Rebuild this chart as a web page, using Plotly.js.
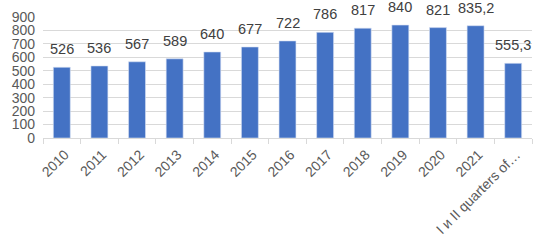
<!DOCTYPE html>
<html>
<head>
<meta charset="utf-8">
<script src="https://cdn.plot.ly/plotly-3.0.1.min.js"></script>
<style>html,body{margin:0;padding:0;background:#fff;}#chart{width:549px;height:245px;}</style>
</head>
<body>
<div id="chart"></div>
<script>
const categories = ["2010","2011","2012","2013","2014","2015","2016","2017","2018","2019","2020","2021","I и II quarters of…"];
const values = [526, 536, 567, 589, 640, 677, 722, 786, 817, 840, 821, 835.2, 555.3];
const labels = ["526","536","567","589","640","677","722","786","817","840","821","835,2","555,3"];
const yTicks = [0,100,200,300,400,500,600,700,800,900];

const annotations = categories.map((c, i) => ({
  x: i, y: values[i], xref: "x", yref: "y",
  text: labels[i], showarrow: false,
  yanchor: "bottom", yshift: 8,
  font: {family: "Liberation Sans, Arial, sans-serif", size: 14.5, color: "#404040"}
}));

Plotly.newPlot("chart", [{
  type: "bar",
  x: categories,
  y: values,
  marker: {color: "#4472C4", line: {color: "#d6e0f3", width: 0.6}},
  hoverinfo: "skip"
}], {
  width: 549, height: 245,
  margin: {l: 43, r: 17, t: 17, b: 107},
  paper_bgcolor: "#fff", plot_bgcolor: "#fff",
  bargap: 0.55,
  showlegend: false,
  annotations: annotations,
  xaxis: {
    type: "category",
    range: [-0.5, categories.length - 0.5],
    tickangle: -45,
    tickfont: {family: "Liberation Sans, Arial, sans-serif", size: 14, color: "#595959"},
    showline: true, linecolor: "#d9d9d9", linewidth: 1,
    ticks: "outside", tickson: "boundaries", ticklen: 5, tickcolor: "#d9d9d9",
    ticklabelshift: 3, ticklabelstandoff: 2,
    showgrid: false, automargin: false
  },
  yaxis: {
    range: [0, 900],
    tickvals: yTicks,
    tickfont: {family: "Liberation Sans, Arial, sans-serif", size: 14, color: "#595959"},
    showgrid: true, gridcolor: "#d9d9d9", gridwidth: 1,
    zeroline: false, showline: false,
    ticks: "", ticklen: 0, ticklabelstandoff: 7, automargin: false
  }
}, {staticPlot: true, displayModeBar: false});
</script>
</body>
</html>
